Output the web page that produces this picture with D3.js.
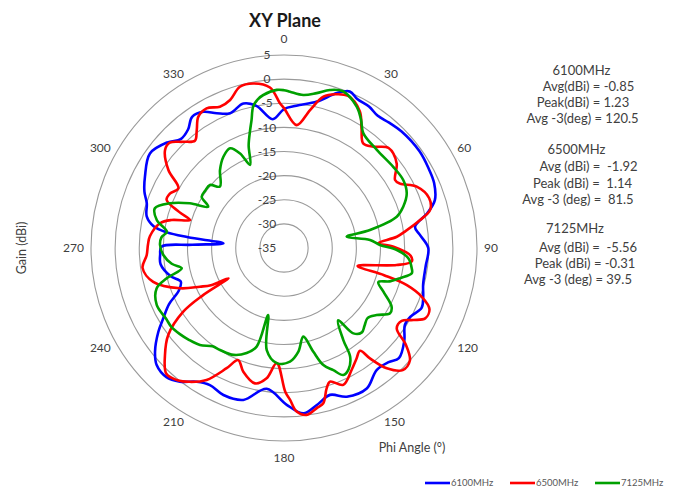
<!DOCTYPE html>
<html>
<head>
<meta charset="utf-8">
<script src="https://cdn.jsdelivr.net/npm/d3@7"></script>
<style>
  html, body { margin: 0; padding: 0; background: #ffffff; }
  svg { display: block; }
  text { font-family: Lato, "Open Sans", sans-serif; }
</style>
</head>
<body>
<div id="chart"></div>
<script>
// ---------- data ----------
const seriesNames = ["6100MHz", "6500MHz", "7125MHz"];
const seriesColors = ["#0000ff", "#ff0000", "#00a000"];

const angles6100 = [0, 5, 12.7, 18.9, 22.8, 26.2, 31, 35.2, 40, 45.3, 54.5, 61.3, 66.6, 72.4, 76.3, 80.8, 84.5, 90, 97.5, 104.6, 109.5, 113.5, 118.6, 122.5, 127.7, 133.8, 137.5, 142.8, 149.5, 157.1, 162.6, 168.2, 173.3, 179, 187, 195, 202.4, 208.4, 213.1, 217.9, 222.3, 227.4, 231.2, 236.3, 239.8, 244, 248, 252, 256, 262.5, 267, 270.6, 272, 274.4, 276.4, 277.6, 279.5, 283, 288, 292, 297.2, 305.2, 312.2, 316.5, 321, 325, 329.4, 333.5, 338.2, 344.3, 349, 355];
const gain6100 = [-6.2, -5.4, -3.9, -1.05, 0.2, -0.6, -0.8, -1.4, -1.1, -0.7, -0.5, -0.8, -1.1, -2.2, -4.4, -7.5, -6.7, -5.1, -5.4, -5.2, -4.4, -3.9, -5.2, -5.3, -3.5, -2.0, -2.9, -3.25, -1.2, -1.55, -3.1, -1.75, -0.5, -2.5, -5.6, -2.4, -2.05, -2.7, -1.9, 0.1, 1.2, 0.85, -0.7, -3.7, -6.05, -8.5, -11.5, -12.5, -10.8, -9.2, -9.3, -9.6, -16, -22.4, -15, -10.5, -7.6, -5.8, -5.1, -3.8, -2.6, -1.0, -2.4, -3.9, -3.4, -1.8, -2.2, -3.8, -4.9, -3.9, -5.0, -8.2];

const angles6500 = [0, 5.9, 10.7, 14.6, 18.5, 22.9, 29, 33, 37.1, 41.4, 46.3, 53.1, 58.5, 61, 65.2, 71, 75.4, 78.4, 82, 84.3, 87.1, 89.3, 93.5, 96.1, 98.6, 103.7, 105.2, 106.8, 109.5, 112.8, 116.5, 119.1, 121.8, 125.5, 128.5, 131.8, 135.8, 139.5, 142.1, 143.5, 147, 151, 156.6, 161, 163.1, 165.8, 168.2, 172.3, 175.6, 177.7, 179.5, 183.6, 187.6, 192.1, 198.2, 202.2, 205.5, 210.4, 215.1, 219.1, 223.1, 228, 233.1, 237.7, 239.8, 241.4, 243, 245.3, 248.8, 255.5, 262, 267, 271.5, 275, 281.3, 284, 286.6, 289, 292.3, 295.5, 299.5, 304, 309.5, 312.7, 316.5, 320.3, 323.5, 326.9, 331, 335.6, 340, 344.7, 349.4, 355, 358.4];
const gain6500 = [-6.0, -9.4, -5.9, -2.6, -1.4, -0.8, -2.6, -5.5, -7.8, -7.0, -5.0, -5.8, -8.0, -7.5, -4.7, -3.2, -3.7, -6.2, -9.5, -11.5, -15.5, -12.3, -8.7, -8.4, -11.4, -19.3, -13.5, -8.4, -4.7, -2.3, -2.3, -4.3, -6.3, -6.3, -2.7, 0.0, 0.3, -2.2, -6.0, -8.5, -7.5, -6.1, -4.1, -5.7, -4.6, -1.8, -1.2, -0.1, -1.0, -3.5, -5.2, -11.1, -7.75, -6.3, -8.0, -9.9, -7.4, -3.3, -1.1, 0.25, 0.7, -1.8, -5.0, -10.3, -15.6, -21.9, -18.0, -15.8, -11.9, -7.0, -5.4, -6.5, -6.8, -7.1, -8.8, -11.0, -14.7, -12.0, -8.7, -8.8, -9.85, -6.1, -3.05, -2.8, -4.65, -6.1, -4.6, -2.5, -1.9, -2.85, -2.35, -0.35, -0.3, -1.6, -5.0];

const angles7125 = [0, 2.2, 7.2, 11.9, 16.2, 20.6, 27.2, 31, 34.7, 43.4, 53.4, 60.3, 66, 70.9, 74.5, 78.2, 79.8, 84.7, 88.2, 91, 94.7, 99, 101.2, 104.6, 107.5, 109.9, 113.7, 118.6, 121.6, 125.9, 130, 134, 137.3, 140.9, 143.2, 147.2, 148.7, 152, 155, 158, 161.4, 164.2, 167.7, 172.1, 177, 183.6, 189.6, 193.3, 195.5, 199.6, 205.3, 212.1, 216, 220.9, 226, 230.4, 235, 239, 245.9, 252.4, 255.5, 258.8, 262, 266.7, 271.4, 275, 277.9, 282.4, 287.1, 291.4, 295.4, 298.6, 301.9, 306, 310.4, 313.8, 320.6, 326.4, 331.6, 335.1, 337.8, 341, 344, 345.8, 347.7, 350, 352.3, 357.4];
const gain7125 = [-2.3, -2.6, -3.05, -2.2, -0.9, -0.3, -2.05, -4.0, -6.1, -7.0, -6.8, -6.55, -7.15, -8.85, -10.75, -16.8, -21.8, -17.1, -15.1, -11.6, -9.15, -8.2, -8.0, -10.15, -12.0, -14.2, -12.5, -9.6, -9.2, -11.3, -12.4, -11.8, -11.2, -12.2, -16.3, -12.3, -8.6, -6.5, -5.95, -7.7, -9.4, -12.65, -16.2, -13.3, -11.4, -11.1, -13.55, -20.7, -13.8, -11.9, -10.5, -10.05, -9.8, -8.4, -7.6, -7.0, -6.5, -6.5, -6.1, -7.3, -9.9, -13.4, -11.5, -9.95, -9.3, -9.5, -10.5, -8.0, -7.0, -9.6, -13.4, -17.1, -14.9, -14.8, -14.85, -16.6, -14.1, -12.3, -11.5, -13.4, -16.4, -12.5, -9.55, -7.6, -5.0, -3.7, -3.0, -2.2];

const ringTicks = [5, 0, -5, -10, -15, -20, -25, -30, -35];
const angleTicks = [0, 30, 60, 90, 120, 150, 180, 210, 240, 270, 300, 330];

const stats6100 = ["6100MHz", "Avg(dBi) = -0.85", "Peak(dBi) = 1.23", "Avg -3(deg) = 120.5"];
const stats6500 = ["6500MHz", "Avg (dBi) =  -1.92", "Peak (dBi) =  1.14", "Avg -3 (deg) =  81.5"];
const stats7125 = ["7125MHz", "Avg (dBi) =  -5.56", "Peak (dBi) = -0.31", "Avg -3 (deg) = 39.5"];

// ---------- chart ----------
const W = 681, H = 491;
const cx = 284, cy = 248;
const svg = d3.select("#chart").append("svg")
  .attr("width", W).attr("height", H)
  .attr("viewBox", `0 0 ${W} ${H}`);

const r = d3.scaleLinear().domain([-35, 5]).range([0, 193]);

const g = svg.append("g").attr("transform", `translate(${cx},${cy})`);

// rings
g.selectAll("circle.ring")
  .data(ringTicks.filter(v => v > -35))
  .join("circle")
  .attr("class", "ring")
  .attr("r", d => r(d))
  .attr("fill", "none")
  .attr("stroke", "#9a9a9a")
  .attr("stroke-width", 1.1);

// series
const series = [
  { name: seriesNames[0], color: seriesColors[0], a: angles6100, v: gain6100 },
  { name: seriesNames[1], color: seriesColors[1], a: angles6500, v: gain6500 },
  { name: seriesNames[2], color: seriesColors[2], a: angles7125, v: gain7125 }
];

const line = d3.lineRadial()
  .angle(d => d[0] * Math.PI / 180)
  .radius(d => r(d[1]))
  .curve(d3.curveCatmullRomClosed.alpha(0.5));

series.forEach(s => {
  const pts = s.a.map((a, i) => [a, s.v[i]]);
  g.append("path")
    .attr("d", line(pts))
    .attr("fill", "none")
    .attr("stroke", s.color)
    .attr("stroke-width", 2.6)
    .attr("stroke-linejoin", "round");
});

// ring labels
g.selectAll("text.rl")
  .data(ringTicks)
  .join("text")
  .attr("class", "rl")
  .attr("x", -17)
  .attr("y", d => -r(d))
  .attr("dy", "0.35em")
  .attr("text-anchor", "middle")
  .attr("font-size", 12)
  .attr("fill", "#404040")
  .text(d => d);

// angle labels (placed just outside the outer ring, box-aware)
const al = g.selectAll("text.al")
  .data(angleTicks)
  .join("text")
  .attr("class", "al")
  .attr("dy", "0.35em")
  .attr("text-anchor", "middle")
  .attr("font-size", 12)
  .attr("fill", "#404040")
  .text(d => d);
al.each(function(d) {
  const t = d * Math.PI / 180;
  const s = Math.sin(t), c = Math.cos(t);
  const w = this.getComputedTextLength();
  const x = Math.abs(s) < 1e-6 ? 0 : 200 * s + Math.sign(s) * w / 2;
  const y = -(200 * c + Math.sign(c) * 9.5 * Math.pow(Math.abs(c), 20));
  d3.select(this).attr("x", x).attr("y", y);
});

// title
svg.append("text")
  .attr("x", 285).attr("y", 27)
  .attr("text-anchor", "middle")
  .attr("font-size", 18)
  .attr("font-weight", "bold")
  .attr("fill", "#1a1a1a")
  .text("XY Plane");

// axis titles
svg.append("text")
  .attr("transform", "translate(26,248) rotate(-90)")
  .attr("text-anchor", "middle")
  .attr("font-size", 12.5)
  .attr("fill", "#404040")
  .text("Gain (dBi)");

svg.append("text")
  .attr("x", 412).attr("y", 452)
  .attr("text-anchor", "middle")
  .attr("font-size", 12.5)
  .attr("fill", "#404040")
  .text("Phi Angle (°)");

// stats annotations
const statBlocks = [stats6100, stats6500, stats7125];
const blockTop = [70, 149, 228];
const lineGap = [[0, 16, 32, 48], [0, 17, 34, 50], [0, 19, 35, 51]];
const centers = [[581.5, 588.5, 583, 582.5], [576.5, 588.5, 582.5, 578], [575, 588, 585, 578]];
statBlocks.forEach((blk, bi) => {
  blk.forEach((t, li) => {
    svg.append("text")
      .attr("x", centers[bi][li])
      .attr("y", blockTop[bi] + lineGap[bi][li])
      .attr("dy", "0.35em")
      .attr("text-anchor", "middle")
      .attr("font-size", 13)
      .attr("fill", "#404040")
      .style("white-space", "pre")
      .attr("xml:space", "preserve")
      .text(t);
  });
});

// legend
const legX = [425, 510, 595];
const leg = svg.append("g");
series.forEach((s, i) => {
  leg.append("line")
    .attr("x1", legX[i]).attr("x2", legX[i] + 25)
    .attr("y1", 483).attr("y2", 483)
    .attr("stroke", s.color).attr("stroke-width", 2.6);
  leg.append("text")
    .attr("x", legX[i] + 26).attr("y", 483)
    .attr("dy", "0.35em")
    .attr("font-size", 9.5)
    .attr("fill", "#595959")
    .text(s.name);
});
</script>
</body>
</html>
